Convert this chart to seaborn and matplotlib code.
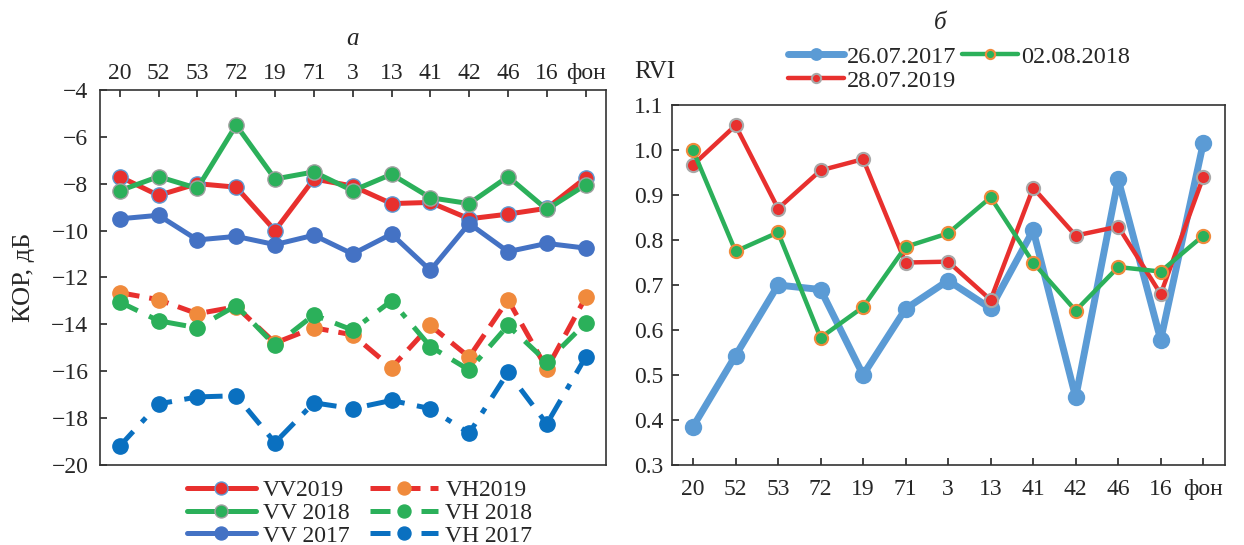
import numpy as np
import pandas as pd
import matplotlib
matplotlib.use("Agg")
import matplotlib.pyplot as plt
import seaborn as sns

sites = ["20", "52", "53", "72", "19", "71", "3", "13", "41", "42", "46", "16", "фон"]

vv2019 = [-7.7, -8.5, -8.0, -8.15, -10.0, -7.8, -8.1, -8.85, -8.8, -9.5, -9.3, -9.05, -7.75]
vv2018 = [-8.3, -7.7, -8.2, -5.5, -7.8, -7.5, -8.3, -7.6, -8.6, -8.85, -7.7, -9.1, -8.05]
vv2017 = [-9.5, -9.35, -10.4, -10.25, -10.6, -10.2, -11.0, -10.15, -11.7, -9.7, -10.9, -10.55, -10.75]
vh2019 = [-12.65, -12.95, -13.55, -13.25, -14.8, -14.15, -14.45, -15.85, -14.05, -15.4, -12.95, -15.9, -12.85]
vh2018 = [-13.05, -13.85, -14.15, -13.2, -14.9, -13.6, -14.25, -13.0, -14.95, -15.95, -14.05, -15.6, -13.95]
vh2017 = [-19.2, -17.4, -17.1, -17.05, -19.05, -17.35, -17.6, -17.25, -17.6, -18.65, -16.05, -18.25, -15.4]

rvi2017 = [0.385, 0.543, 0.70, 0.69, 0.50, 0.647, 0.71, 0.648, 0.822, 0.45, 0.935, 0.578, 1.015]
rvi2018 = [1.0, 0.775, 0.817, 0.583, 0.651, 0.785, 0.815, 0.895, 0.75, 0.643, 0.74, 0.73, 0.81]
rvi2019 = [0.967, 1.055, 0.87, 0.955, 0.98, 0.75, 0.752, 0.667, 0.916, 0.81, 0.83, 0.68, 0.94]

sns.set_style("ticks")
plt.rcParams["font.family"] = ["Liberation Serif", "DejaVu Serif"]
plt.rcParams["font.size"] = 17
plt.rcParams["axes.unicode_minus"] = True

fig = plt.figure(figsize=(12.44, 5.45), dpi=100)
axL = fig.add_axes([0.080, 0.147, 0.407, 0.688])
axR = fig.add_axes([0.540, 0.147, 0.445, 0.660])

x = np.arange(len(sites))

RED = "#e8302e"
GREEN = "#2bb05a"
BLUE_VV = "#4472c4"
BLUE_VH = "#0a70c0"
ORANGE = "#f08a3c"

left_series = [
    ("VV2019", vv2019, RED, RED, "#5b9bd5", "-"),
    ("VV 2018", vv2018, GREEN, GREEN, "#a0a0a0", "-"),
    ("VV 2017", vv2017, BLUE_VV, BLUE_VV, BLUE_VV, "-"),
    ("VH2019", vh2019, RED, ORANGE, ORANGE, (0, (4, 2))),
    ("VH 2018", vh2018, GREEN, GREEN, GREEN, (0, (4, 2.5, 1.2, 2.5))),
    ("VH 2017", vh2017, BLUE_VH, BLUE_VH, BLUE_VH, (0, (4, 2.5, 1.2, 2.5))),
]
for name, vals, lc, mfc, mec, ls in left_series:
    df = pd.DataFrame({"x": x, "y": vals})
    sns.lineplot(data=df, x="x", y="y", ax=axL, color=lc, lw=3.6, linestyle=ls,
                 marker="o", markersize=11, markerfacecolor=mfc, markeredgecolor=mec,
                 markeredgewidth=1.0, label=name)

axL.set_xlim(-0.52, 12.52)
axL.set_ylim(-20, -4)
axL.set_yticks(np.arange(-20, -3, 2))
axL.set_xticks(x)
axL.set_xticklabels(sites)
axL.xaxis.tick_top()
axL.xaxis.set_label_position("top")
axL.tick_params(axis="both", direction="in", length=5, width=1.2, labelsize=17)
axL.tick_params(axis="x", pad=4)
axL.tick_params(axis="y", pad=8)
axL.set_xlabel("")
axL.set_ylabel("КОР, дБ", fontsize=19, labelpad=12)
axL.set_title("а", fontstyle="italic", fontsize=18, pad=32)
for s in axL.spines.values():
    s.set_linewidth(1.2)
    s.set_color("#333333")
axL.legend(loc="upper center", bbox_to_anchor=(0.514, -0.002), ncol=2, frameon=False,
           fontsize=17, handlelength=2.9, handletextpad=0.3, columnspacing=0.87,
           labelspacing=0.05, borderaxespad=0.2, markerscale=0.85)

right_series = [
    ("26.07.2017", rvi2017, "#5b9bd5", "#5b9bd5", "#5b9bd5", 5.0, 11),
    ("28.07.2019", rvi2019, RED, RED, "#a8a8a8", 3.2, 9.5),
    ("02.08.2018", rvi2018, GREEN, GREEN, ORANGE, 3.2, 9.5),
]
for name, vals, lc, mfc, mec, lw, ms in right_series:
    df = pd.DataFrame({"x": x, "y": vals})
    sns.lineplot(data=df, x="x", y="y", ax=axR, color=lc, lw=lw,
                 marker="o", markersize=ms, markerfacecolor=mfc, markeredgecolor=mec,
                 markeredgewidth=1.5, label=name)

axR.set_xlim(-0.5, 12.52)
axR.set_ylim(0.3, 1.1)
axR.set_yticks(np.round(np.arange(0.3, 1.101, 0.1), 1))
axR.set_yticklabels([f"{v:.1f}" for v in np.arange(0.3, 1.101, 0.1)])
axR.set_xticks(x)
axR.set_xticklabels(sites)
axR.tick_params(axis="both", direction="in", length=5, width=1.2, labelsize=17)
axR.tick_params(axis="x", pad=10)
axR.tick_params(axis="y", pad=6)
axR.set_xlabel("")
axR.set_ylabel("")
for s in axR.spines.values():
    s.set_linewidth(1.2)
    s.set_color("#333333")
axR.text(-0.031, 1.092, "RVI", transform=axR.transAxes, ha="center", va="center", fontsize=18)
axR.legend(loc="lower center", bbox_to_anchor=(0.519, 1.003), ncol=2, frameon=False,
           fontsize=17.5, handlelength=2.3, handletextpad=0.12, columnspacing=0.25,
           labelspacing=0.1, borderaxespad=0.1, markerscale=0.7)
fig.text(0.756, 0.958, "б", fontstyle="italic", fontsize=18, ha="center", va="center")

fig.savefig("out.png", dpi=100)
